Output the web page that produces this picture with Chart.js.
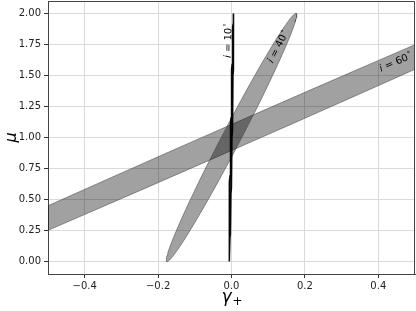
<!DOCTYPE html>
<html lang="en">
<head>
  <meta charset="UTF-8">
  <title>Inclination constraints</title>
  <script src="https://cdn.jsdelivr.net/npm/chart.js"></script>
  <style>
    body {
      margin: 0;
      padding: 0;
      background-color: #fff;
    }

    #chart-container {
      width: 416px;
      height: 311px;
    }
  </style>
</head>
<body>
  <div id="chart-container">
    <canvas id="ellipseChart" width="416" height="311"></canvas>
  </div>

  <script>
    // Ellipses: centre, half major axis (dx, dy), conjugate half axis (dx, dy)
    const labels = ['10', '40', '60'];
    const centreX = [-0.0005, 0.0, 0.0];
    const centreY = [1.0, 1.0, 1.0];
    const majorDx = [0.006, 0.1755, 1.5];
    const majorDy = [1.0, 1.0, 1.947];
    const minorDx = [0.0018, 0.028, 0.0];
    const minorDy = [0.0, 0.0, 0.105];
    const lineColors = ['rgba(0,0,0,0.95)', 'rgba(70,70,70,0.7)', 'rgba(70,70,70,0.7)'];

    // label anchors (data units)
    const labelX = [-0.008, 0.128, 0.448];
    const labelY = [1.78, 1.73, 1.605];

    const xTicks = [-0.4, -0.2, 0.0, 0.2, 0.4];
    const yTicks = [0.0, 0.25, 0.5, 0.75, 1.0, 1.25, 1.5, 1.75, 2.0];

    // outline of an ellipse from its centre and two conjugate half axes
    function outline(k) {
      const pts = [];
      for (let a = 0; a <= 360; a += 3) {
        const t = a * Math.PI / 180;
        pts.push({
          x: centreX[k] + majorDx[k] * Math.cos(t) + minorDx[k] * Math.sin(t),
          y: centreY[k] + majorDy[k] * Math.cos(t) + minorDy[k] * Math.sin(t)
        });
      }
      return pts;
    }

    const datasets = labels.map((l, k) => ({
      label: 'i = ' + l,
      data: outline(k),
      showLine: true,
      pointRadius: 0,
      borderWidth: k === 0 ? 1.5 : 0.8,
      borderColor: lineColors[k],
      backgroundColor: k === 0 ? 'rgba(0,0,0,0.85)' : 'rgba(0,0,0,0.37)',
      fill: 'shape',
      tension: 0
    }));

    const fmt = v => {
      return v < 0 ? '\u2212' + Math.abs(v).toFixed(1) : v.toFixed(1);
    };

    // frame, axis titles and the i = .. labels
    const extras = {
      id: 'extras',
      afterDatasetsDraw(chart) {
        const c = chart.ctx;
        const xs = chart.scales.x;
        const ys = chart.scales.y;
        const area = chart.chartArea;

        labels.forEach((l, k) => {
          const px = xs.getPixelForValue(labelX[k]);
          const py = ys.getPixelForValue(labelY[k]);
          const dxp = xs.getPixelForValue(majorDx[k]) - xs.getPixelForValue(0);
          const dyp = ys.getPixelForValue(majorDy[k]) - ys.getPixelForValue(0);
          const ang = Math.atan2(dyp, dxp);
          c.save();
          c.translate(px, py);
          c.rotate(ang);
          c.fillStyle = '#000';
          c.textBaseline = 'middle';
          c.font = 'italic 10px "DejaVu Sans"';
          const iw = c.measureText('i').width;
          c.font = '10px "DejaVu Sans"';
          const rest = ' = ' + l;
          const rw = c.measureText(rest).width;
          c.font = '7px "DejaVu Sans"';
          const dw = c.measureText('\u2218').width;
          let x0 = -(iw + rw + dw) / 2;
          c.textAlign = 'left';
          c.font = 'italic 10px "DejaVu Sans"';
          c.fillText('i', x0, 0);
          c.font = '10px "DejaVu Sans"';
          c.fillText(rest, x0 + iw, 0);
          c.font = '7px "DejaVu Sans"';
          c.fillText('\u2218', x0 + iw + rw + 0.5, -4);
          c.restore();
        });

        // top and right spines
        c.save();
        c.strokeStyle = '#444';
        c.lineWidth = 1;
        c.beginPath();
        c.moveTo(area.left, area.top + 0.5);
        c.lineTo(area.right - 0.5, area.top + 0.5);
        c.lineTo(area.right - 0.5, area.bottom);
        c.stroke();
        c.restore();

        // axis titles
        c.save();
        c.fillStyle = '#000';
        c.textBaseline = 'middle';
        c.font = 'italic 17px "DejaVu Sans"';
        const gw = c.measureText('\u03b3').width;
        c.font = '12px "DejaVu Sans"';
        const pw = c.measureText('+').width;
        const cx = (area.left + area.right) / 2;
        c.textAlign = 'left';
        c.font = 'italic 17px "DejaVu Sans"';
        c.fillText('\u03b3', cx - (gw + pw) / 2, 298);
        c.font = '12px "DejaVu Sans"';
        c.fillText('+', cx - (gw + pw) / 2 + gw + 1, 302);

        c.translate(12, (area.top + area.bottom) / 2);
        c.rotate(-Math.PI / 2);
        c.textAlign = 'center';
        c.font = 'italic 16px "DejaVu Sans"';
        c.fillText('\u03bc', 0, 0);
        c.restore();
      }
    };

    const ctx = document.getElementById('ellipseChart').getContext('2d');
    const chart = new Chart(ctx, {
      type: 'scatter',
      data: { datasets: datasets },
      options: {
        responsive: false,
        animation: false,
        layout: { padding: { top: 1, right: 1, left: 0, bottom: 0 } },
        plugins: {
          legend: { display: false },
          tooltip: { enabled: false }
        },
        scales: {
          x: {
            type: 'linear',
            min: -0.5,
            max: 0.5,
            afterBuildTicks: s => { s.ticks = xTicks.map(v => ({ value: v })); },
            afterFit: s => { s.height = 37; s.paddingLeft = 0; s.paddingRight = 0; },
            grid: { color: '#dadada', lineWidth: 1, tickColor: '#333', tickLength: 4 },
            border: { color: '#444' },
            ticks: {
              color: '#222',
              padding: 2,
              maxRotation: 0,
              font: { family: 'DejaVu Sans', size: 10 },
              callback: v => fmt(v)
            }
          },
          y: {
            type: 'linear',
            min: -0.1,
            max: 2.1,
            afterBuildTicks: s => { s.ticks = yTicks.map(v => ({ value: v })); },
            afterFit: s => { s.width = 48; s.paddingTop = 0; s.paddingBottom = 0; },
            grid: { color: '#dadada', lineWidth: 1, tickColor: '#333', tickLength: 4 },
            border: { color: '#444' },
            ticks: {
              color: '#222',
              padding: 3,
              font: { family: 'DejaVu Sans', size: 10 },
              callback: v => v.toFixed(2)
            }
          }
        }
      },
      plugins: [extras]
    });
  </script>
</body>
</html>
